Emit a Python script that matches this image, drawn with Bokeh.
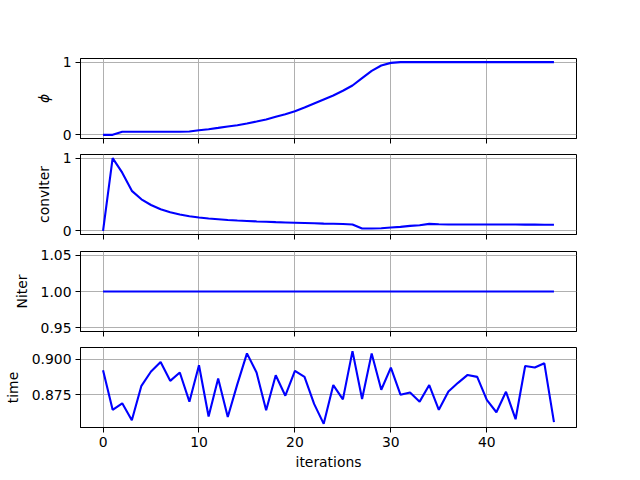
from bokeh.plotting import figure
from bokeh.layouts import column
from bokeh.models import Range1d, FixedTicker, PrintfTickFormatter, CustomJSTickFormatter
from bokeh.embed import file_html
from bokeh.resources import INLINE

iterations = list(range(48))
phi = [0.0, 0.0, 0.042, 0.042, 0.042, 0.042, 0.042, 0.042, 0.042, 0.046,
       0.064, 0.078, 0.096, 0.115, 0.133, 0.156, 0.183, 0.211, 0.248, 0.284,
       0.326, 0.376, 0.431, 0.486, 0.541, 0.606, 0.679, 0.78, 0.88, 0.954,
       0.99, 1.0, 1.0, 1.0, 1.0, 1.0, 1.0, 1.0, 1.0, 1.0,
       1.0, 1.0, 1.0, 1.0, 1.0, 1.0, 1.0, 1.0]
conv_iter = [0.0, 1.0, 0.80, 0.55, 0.434, 0.356, 0.297, 0.256, 0.224, 0.2,
             0.183, 0.169, 0.16, 0.15, 0.142, 0.136, 0.13, 0.125, 0.12, 0.116,
             0.112, 0.108, 0.104, 0.1, 0.097, 0.094, 0.088, 0.032, 0.032, 0.036,
             0.046, 0.055, 0.068, 0.078, 0.096, 0.091, 0.087, 0.087, 0.087, 0.087,
             0.087, 0.087, 0.087, 0.087, 0.086, 0.086, 0.085, 0.085]
n_iter = [1.0] * 48
time = [0.8923, 0.8643, 0.8689, 0.857, 0.8813, 0.8914, 0.8981, 0.8848, 0.8907, 0.8701,
        0.8958, 0.8596, 0.8864, 0.8593, 0.8825, 0.9042, 0.8907, 0.864, 0.8888, 0.8743,
        0.8918, 0.8876, 0.8685, 0.8544, 0.8818, 0.8717, 0.9058, 0.872, 0.9042, 0.8785,
        0.8942, 0.875, 0.8766, 0.8701, 0.8818, 0.8643, 0.8773, 0.8834, 0.889, 0.8876,
        0.8713, 0.8626, 0.8771, 0.8577, 0.8953, 0.8942, 0.8972, 0.8556]

x_ticks = [0, 10, 20, 30, 40]
panels = [
    ("ϕ", phi, [0, 1], "%d"),
    ("convIter", conv_iter, [0, 1], "%d"),
    ("Niter", n_iter, [0.95, 1.00, 1.05], "%.2f"),
    ("time", time, [0.875, 0.900], "%.3f"),
]
borders = [(58, 8), (8, 8), (9, 8), (8, 53)]

FONT = "DejaVu Sans"
FS = "13.9px"

def yrange(vals):
    lo, hi = min(vals), max(vals)
    if hi - lo == 0:
        lo, hi = lo - 0.05 * abs(lo), hi + 0.05 * abs(hi)
    pad = 0.05 * (hi - lo)
    return Range1d(lo - pad, hi + pad)

xr = Range1d(-2.35, 49.35)
figs = []
for i, (label, vals, yt, fmt) in enumerate(panels):
    top, bottom = borders[i]
    last = i == len(panels) - 1
    p = figure(frame_width=496, frame_height=80, x_range=xr, y_range=yrange(vals),
               output_backend="svg", toolbar_location=None,
               min_border_left=80, min_border_right=64,
               min_border_top=top, min_border_bottom=bottom)
    p.line(iterations, vals, line_color="blue", line_width=2.1)
    p.outline_line_color = "black"
    p.outline_line_width = 1
    p.background_fill_color = "white"
    p.border_fill_color = "white"
    for ax in (p.xaxis[0], p.yaxis[0]):
        ax.axis_line_color = "black"
        ax.major_tick_line_color = "black"
        ax.major_tick_out = 5
        ax.major_tick_in = 0
        ax.minor_tick_line_color = None
        ax.major_label_text_font = FONT
        ax.major_label_text_font_size = FS
        ax.major_label_text_color = "black"
        ax.axis_label_text_font = FONT
        ax.axis_label_text_font_size = FS
        ax.axis_label_text_color = "black"
        ax.axis_label_text_font_style = "normal"
    p.xaxis.ticker = FixedTicker(ticks=x_ticks)
    p.yaxis.ticker = FixedTicker(ticks=yt)
    p.yaxis.formatter = PrintfTickFormatter(format=fmt)
    p.yaxis.axis_label = label
    p.yaxis.axis_label_standoff = 8
    p.yaxis.major_label_standoff = 4
    if label == "ϕ":
        p.yaxis.axis_label_text_font_style = "italic"
    if last:
        p.xaxis.axis_label = "iterations"
        p.xaxis.major_label_standoff = 4
        p.xaxis.axis_label_standoff = 4
    else:
        # shared x axis: ticks only, no labels (as in the reference)
        p.xaxis.formatter = CustomJSTickFormatter(code="return ''")
        p.xaxis.major_label_standoff = 0
    for g in (p.xgrid[0], p.ygrid[0]):
        g.grid_line_color = "#b0b0b0"
        g.grid_line_width = 1
    p.xgrid.ticker = FixedTicker(ticks=x_ticks)
    p.ygrid.ticker = FixedTicker(ticks=yt)
    figs.append(p)

layout = column(*figs, spacing=0)
open("out.html", "w").write(file_html(layout, INLINE))
